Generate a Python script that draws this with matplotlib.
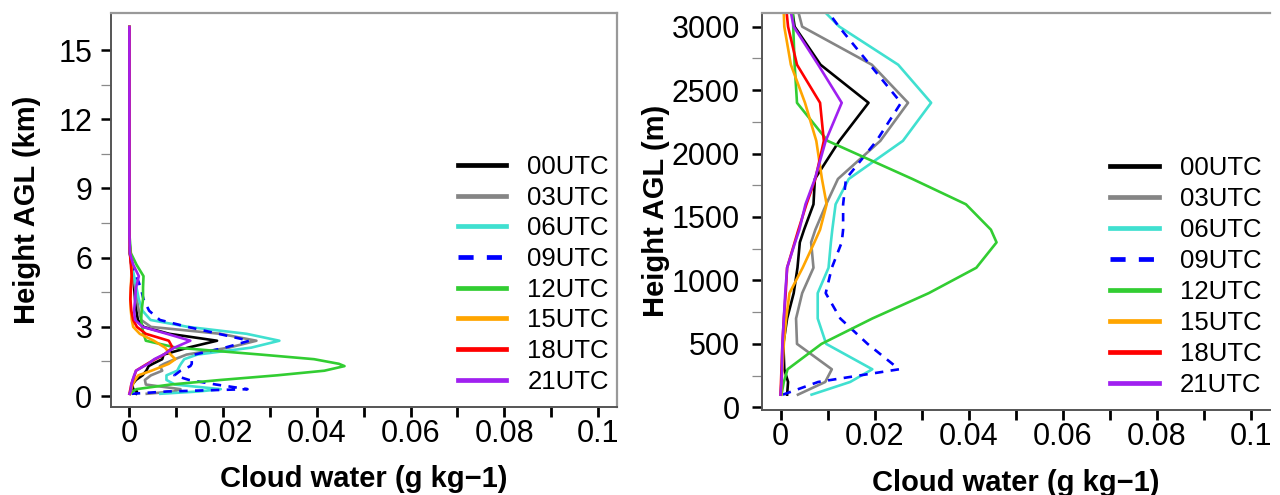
import numpy as np
import matplotlib
matplotlib.use("Agg")
import matplotlib.pyplot as plt

plt.rcParams['font.family'] = ['Liberation Sans', 'DejaVu Sans']

# model levels (m above ground)
heights_m = [100, 200, 300, 500, 700, 900, 1100, 1300, 1400, 1600, 1800, 2100, 2400, 2700, 3000,
             3300, 3700, 4200, 4700, 5200, 5700, 6200, 7000, 8000, 10000, 12000, 14000, 16000]

# cloud water mixing ratio (g/kg) at each level, one profile per time
qc_00 = [0.0014, 0.0016, 0.0008, 0.0006, 0.0014, 0.0028, 0.0036, 0.0041, 0.0050, 0.0070, 0.0073, 0.0125, 0.0187, 0.0085,
         0.0030, 0.0018, 0.0015, 0.0012, 0.0010, 0.0008, 0.0004, 0.0001, 0, 0, 0, 0, 0, 0]
qc_03 = [0.0037, 0.0095, 0.0109, 0.0035, 0.0033, 0.0046, 0.0070, 0.0065, 0.0074, 0.0097, 0.0122, 0.0212, 0.0271, 0.0194,
         0.0046, 0.0025, 0.0020, 0.0016, 0.0012, 0.0008, 0.0004, 0.0001, 0, 0, 0, 0, 0, 0]
qc_06 = [0.0066, 0.0148, 0.0195, 0.0097, 0.0079, 0.0079, 0.0102, 0.0107, 0.0110, 0.0117, 0.0145, 0.0260, 0.0320, 0.0250,
         0.0125, 0.0045, 0.0028, 0.0020, 0.0015, 0.0010, 0.0005, 0.0001, 0, 0, 0, 0, 0, 0]
qc_09 = [0.0005, 0.0080, 0.0252, 0.0185, 0.0127, 0.0096, 0.0109, 0.0130, 0.0133, 0.0133, 0.0139, 0.0204, 0.0256, 0.0190,
         0.0124, 0.0065, 0.0042, 0.0030, 0.0024, 0.0015, 0.0006, 0.0001, 0, 0, 0, 0, 0, 0]
qc_12 = [0.0002, 0.0007, 0.0015, 0.0087, 0.0195, 0.0315, 0.0416, 0.0459, 0.0447, 0.0394, 0.0280, 0.0100, 0.0035, 0.0030,
         0.0027, 0.0025, 0.0026, 0.0029, 0.0029, 0.0030, 0.0015, 0.0003, 0, 0, 0, 0, 0, 0]
qc_15 = [0.0001, 0.0002, 0.0004, 0.0007, 0.0012, 0.0019, 0.0047, 0.0072, 0.0084, 0.0098, 0.0088, 0.0076, 0.0052, 0.0022,
         0.0008, 0.0005, 0.0003, 0.0002, 0.0003, 0.0004, 0.0006, 0.0001, 0, 0, 0, 0, 0, 0]
qc_18 = [0.0000, 0.0001, 0.0002, 0.0004, 0.0007, 0.0011, 0.0014, 0.0030, 0.0038, 0.0055, 0.0074, 0.0092, 0.0084, 0.0035,
         0.0016, 0.0008, 0.0004, 0.0002, 0.0003, 0.0005, 0.0003, 0.0001, 0, 0, 0, 0, 0, 0]
qc_21 = [0.0000, 0.0002, 0.0003, 0.0004, 0.0007, 0.0010, 0.0014, 0.0031, 0.0040, 0.0053, 0.0073, 0.0096, 0.0130, 0.0080,
         0.0028, 0.0012, 0.0010, 0.0012, 0.0014, 0.0020, 0.0008, 0.0001, 0, 0, 0, 0, 0, 0]

times = ["00UTC", "03UTC", "06UTC", "09UTC", "12UTC", "15UTC", "18UTC", "21UTC"]
profiles = [qc_00, qc_03, qc_06, qc_09, qc_12, qc_15, qc_18, qc_21]
colors = ["black", "#858585", "#40E0D0", "blue", "#32CD32", "#FFA500", "red", "#A020F0"]
styles = ["-", "-", "-", (0, (3.2, 2.8)), "-", "-", "-", "-"]

x_ticks = np.arange(0, 0.1001, 0.01)
x_labels = ["0", "", "0.02", "", "0.04", "", "0.06", "", "0.08", "", "0.1"]

W, H = 1280, 495
fig = plt.figure(figsize=(W / 100, H / 100), dpi=100)


def px_axes(l, t, r, b):
    return fig.add_axes([l / W, 1 - b / H, (r - l) / W, (b - t) / H])


def style(ax, ylab, ymaj, ymin, ylabx, ypad):
    ax.set_xlim(-0.004, 0.104)
    ax.set_xticks(x_ticks)
    ax.set_xticklabels(x_labels)
    ax.set_yticks(ymaj)
    ax.set_yticks(ymin, minor=True)
    ax.tick_params(axis='x', length=7.2, width=2.0, color='black', pad=1.5, labelsize=22)
    ax.tick_params(axis='y', which='major', length=7.2, width=1.8, color='black', pad=ypad, labelsize=22)
    ax.tick_params(axis='y', which='minor', length=7.2, width=0.9, color='#8a8a8a')
    for s in ['left', 'bottom']:
        ax.spines[s].set_color('#555555')
        ax.spines[s].set_linewidth(1.4)
    for s in ['top', 'right']:
        ax.spines[s].set_color('#999999')
        ax.spines[s].set_linewidth(1.6)
    ax.set_xlabel("Cloud water (g kg\u22121)", fontsize=21, fontweight='bold', va='center')
    ax.set_ylabel(ylab, fontsize=21, fontweight='bold', va='center')
    ax.xaxis.set_label_coords(0.5, -0.184)
    ax.yaxis.set_label_coords(ylabx, 0.5)


def draw(ax, scale, anchor, spacing):
    for name, q, c, ls in zip(times, profiles, colors, styles):
        ax.plot(q, np.array(heights_m) / scale, color=c, linestyle=ls, lw=1.9,
                solid_joinstyle='round', label=name)
    leg = ax.legend(loc='upper left', bbox_to_anchor=anchor, bbox_transform=fig.transFigure,
                    frameon=False, fontsize=18.5, handlelength=1.9, handletextpad=0.82,
                    labelspacing=spacing, borderpad=0, borderaxespad=0)
    for ln in leg.get_lines():
        ln.set_linewidth(3.4)


# full column, km
ax1 = px_axes(110.7, 12.7, 616.7, 406.7)
draw(ax1, 1000.0, (457.6 / W, 1 - 155 / H), 0.26)
ax1.set_ylim(-0.46, 16.62)
style(ax1, "Height AGL (km)", np.arange(0, 16, 3), np.arange(1.5, 15, 3), -0.165, 6)

# lowest 3 km, m
ax2 = px_axes(761.7, 12.7, 1270, 410)
draw(ax2, 1.0, (1110 / W, 1 - 156 / H), 0.27)
ax2.set_ylim(-21, 3110)
style(ax2, "Height AGL (m)", np.arange(0, 3001, 500), np.arange(250, 3000, 500), -0.208, 8.5)
ax2.spines['right'].set_visible(False)

fig.savefig("out.png", dpi=100)
